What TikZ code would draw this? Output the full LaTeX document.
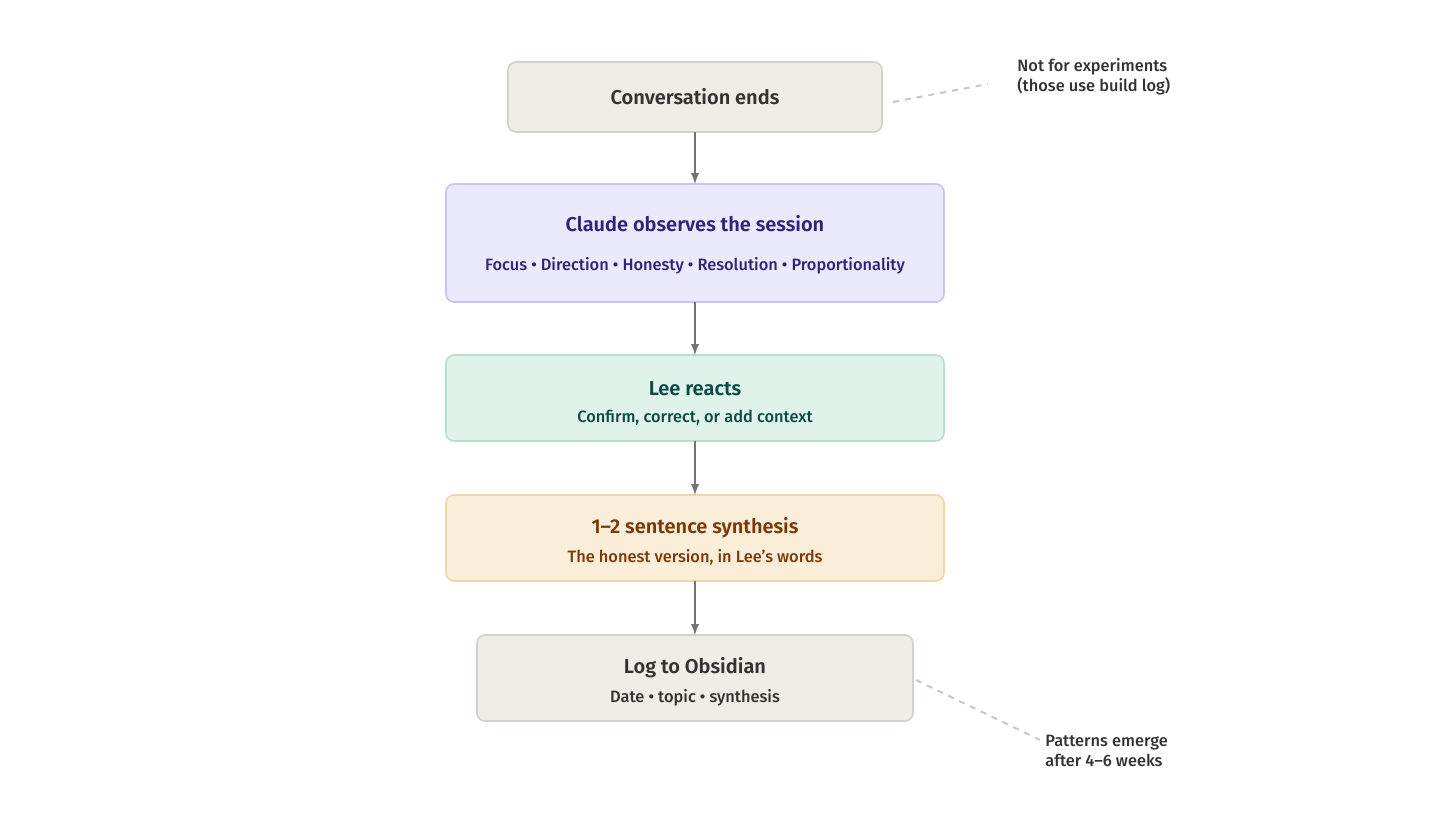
\documentclass[tikz,border=0pt]{standalone}
\usepackage{fontspec}
\setmainfont{Fira Sans}[UprightFont=* Medium, BoldFont=* SemiBold]
\begin{document}
\begin{tikzpicture}[x=0.5pt,y=-0.5pt,
  box/.style={rounded corners=4pt,line width=0.8pt},
  ttl/.style={font=\fontsize{10}{12}\selectfont\bfseries},
  sub/.style={font=\fontsize{8.2}{10}\selectfont},
  arr/.style={draw=black!55,line width=0.9pt,-latex},
  note/.style={draw=black!22,dashed,line width=1pt},
  notetext/.style={font=\fontsize{8.2}{10}\selectfont,text=black!80,align=left,anchor=north west,inner sep=0pt}]
\definecolor{gf}{HTML}{EFEDE7}\definecolor{gd}{HTML}{D3D1CA}\definecolor{gt}{HTML}{333333}
\definecolor{pf}{HTML}{EBE9FC}\definecolor{pd}{HTML}{C9C3F5}\definecolor{pt}{HTML}{2E2479}
\definecolor{tf}{HTML}{DFF3EA}\definecolor{td}{HTML}{B8E0CC}\definecolor{tt}{HTML}{0B4A45}
\definecolor{of}{HTML}{FBEED8}\definecolor{od}{HTML}{F0D8AE}\definecolor{ot}{HTML}{7A3A0A}
\useasboundingbox[fill=white] (0,0) rectangle (1456,819);
\draw[box,fill=gf,draw=gd] (508,62) rectangle (882,132);
\node[ttl,text=gt] (n1) at (695,97) {Conversation ends};
\coordinate (b1) at (695,132);
\draw[box,fill=pf,draw=pd] (446,184) rectangle (944,302);
\coordinate (t2) at (695,184);\coordinate (b2) at (695,302);
\node[ttl,text=pt] (n2) at (695,224) {Claude observes the session};
\node[sub,text=pt] (s2) at (695,266) {Focus • Direction • Honesty • Resolution • Proportionality};
\draw[box,fill=tf,draw=td] (446,355) rectangle (944,441);
\coordinate (t3) at (695,355);\coordinate (b3) at (695,441);
\node[ttl,text=tt] (n3) at (695,389) {Lee reacts};
\node[sub,text=tt] (s3) at (695,418) {Confirm, correct, or add context};
\draw[box,fill=of,draw=od] (446,495) rectangle (944,581);
\coordinate (t4) at (695,495);\coordinate (b4) at (695,581);
\node[ttl,text=ot] (n4) at (695,528) {1–2 sentence synthesis};
\node[sub,text=ot] (s4) at (695,557) {The honest version, in Lee's words};
\draw[box,fill=gf,draw=gd] (477,635) rectangle (913,721);
\coordinate (t5) at (695,635);
\node[ttl,text=gt] (n5) at (695,668) {Log to Obsidian};
\node[sub,text=gt] (s5) at (695,698) {Date • topic • synthesis};
\draw[arr] (b1) -- (t2);
\draw[arr] (b2) -- (t3);
\draw[arr] (b3) -- (t4);
\draw[arr] (b4) -- (t5);
\node[notetext] (a1) at (1017,58) {Not for experiments\\(those use build log)};
\node[notetext] (a2) at (1045,735) {Patterns emerge\\after 4–6 weeks};
\coordinate (d1) at (893,102);\coordinate (d2) at (988,84);
\coordinate (d3) at (916,680);\coordinate (d4) at (1040,740);
\draw[note] (d1) -- (d2);
\draw[note] (d3) -- (d4);
\end{tikzpicture}
\end{document}
